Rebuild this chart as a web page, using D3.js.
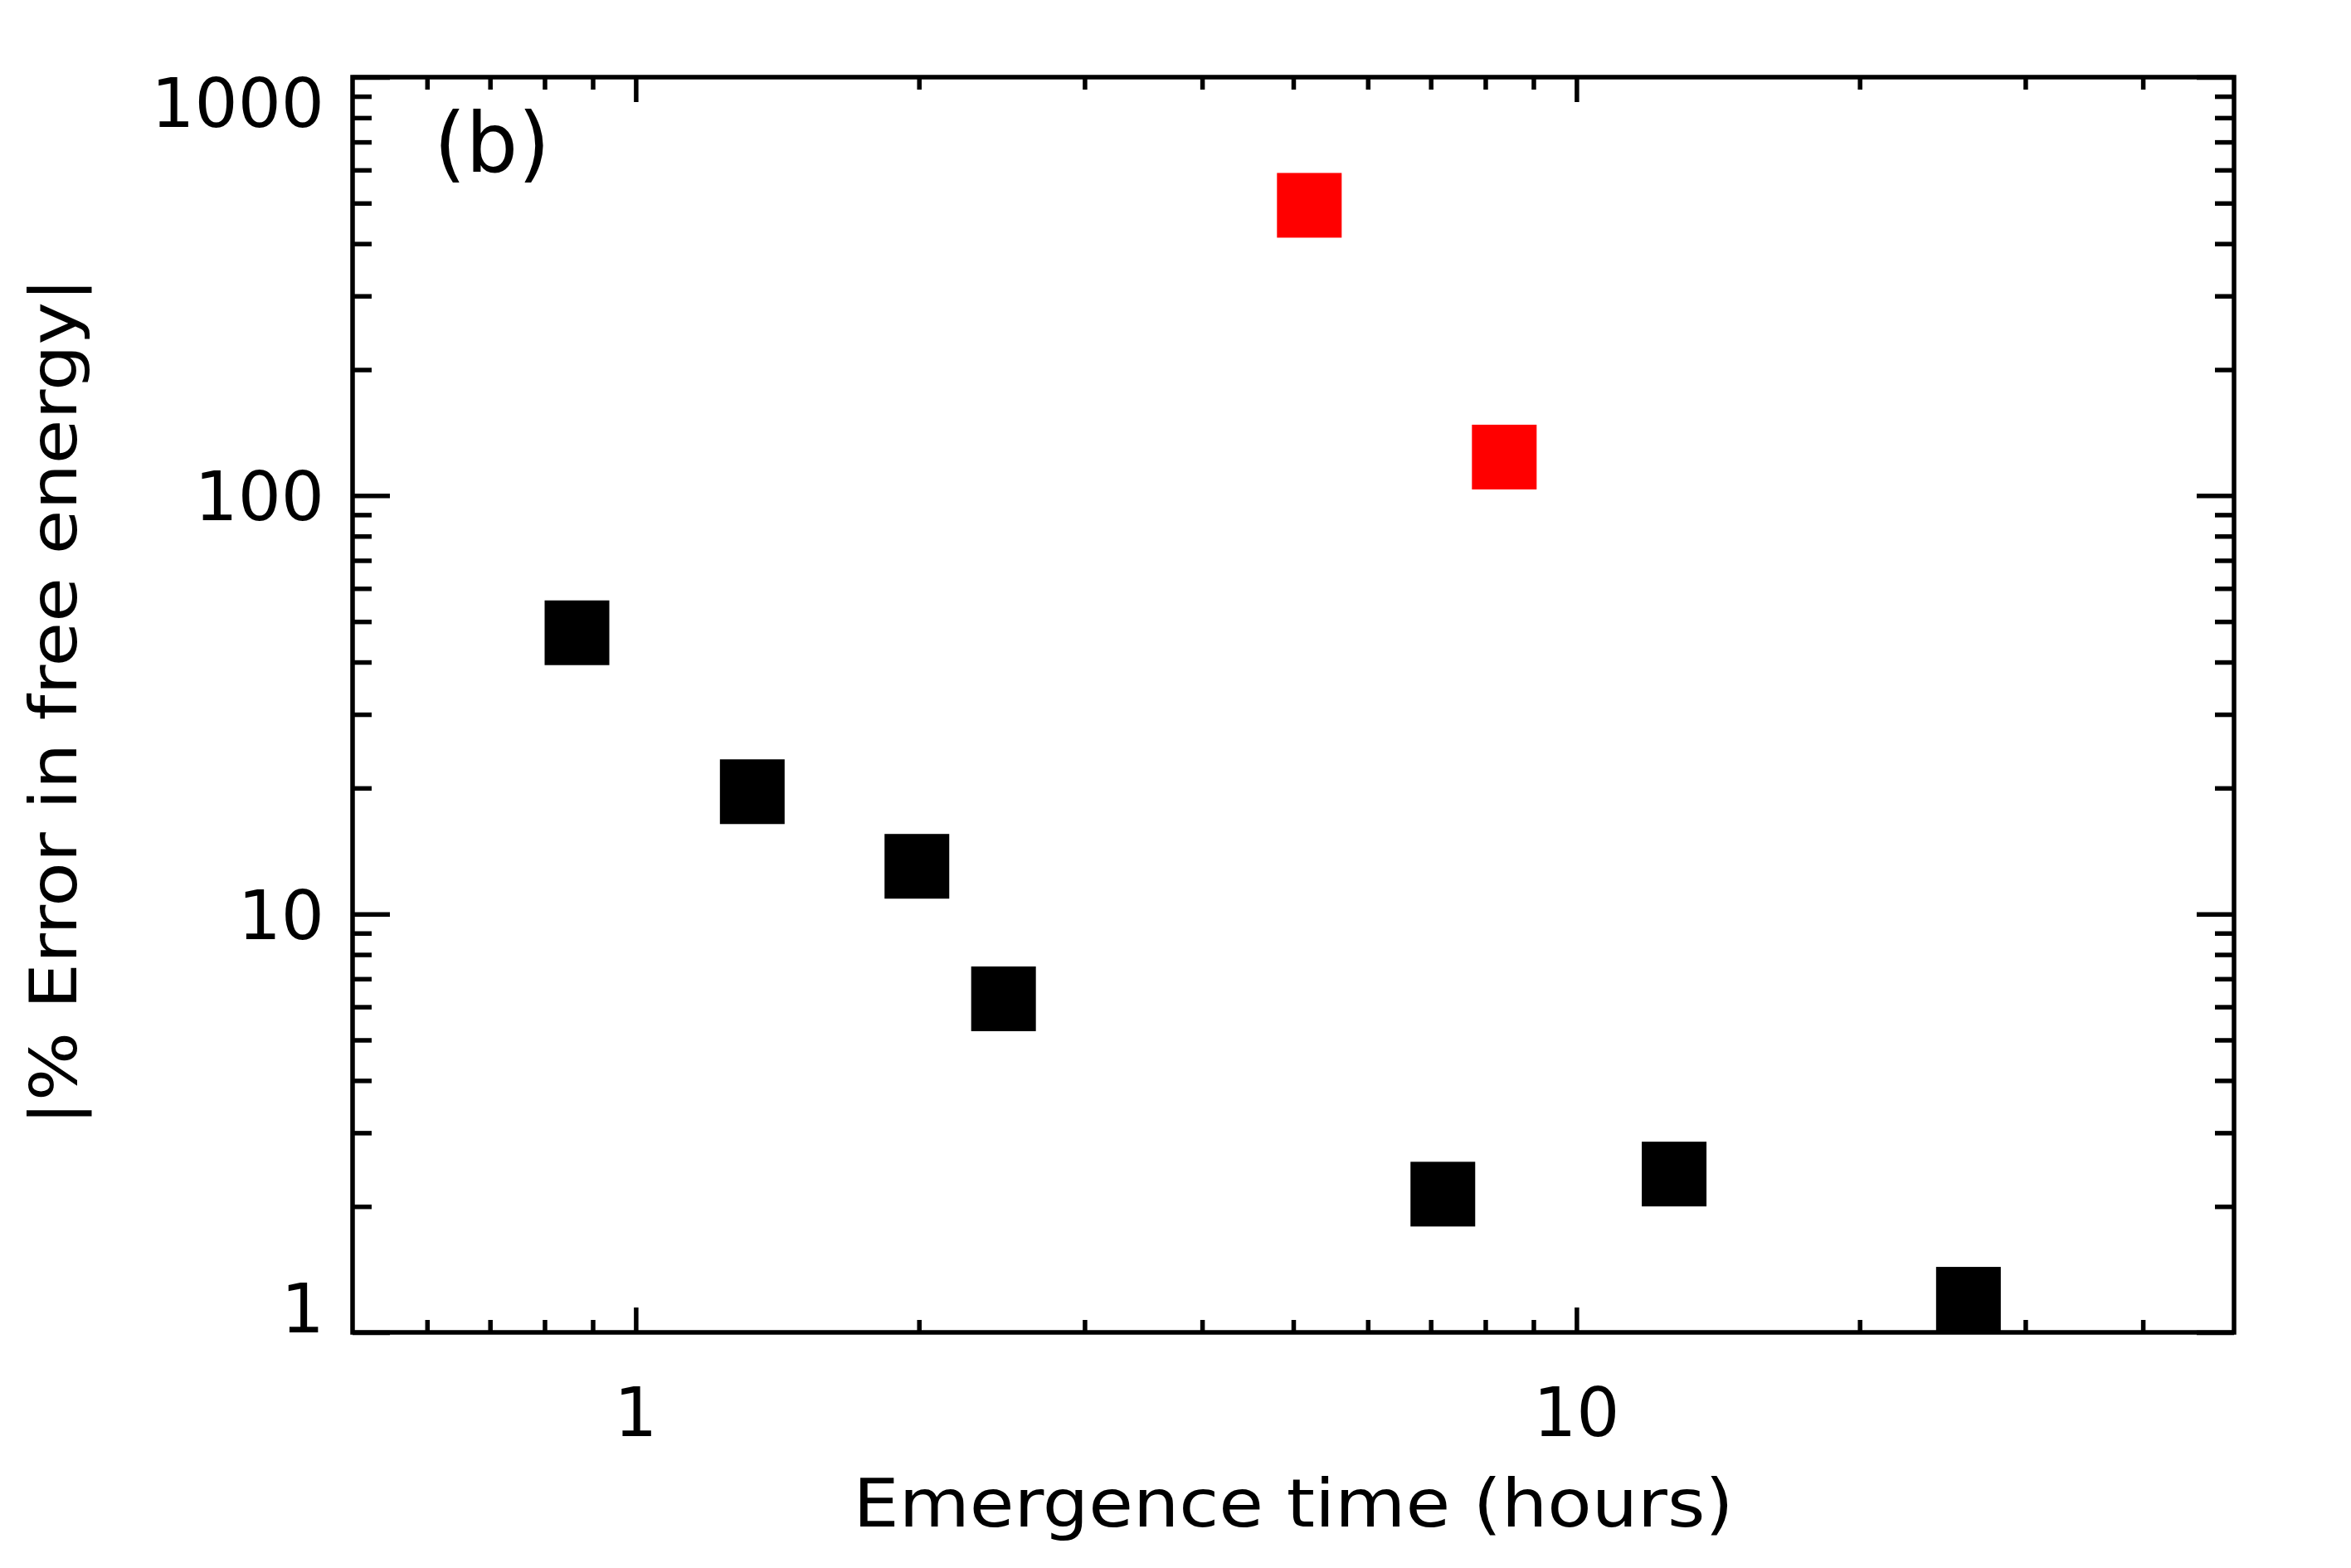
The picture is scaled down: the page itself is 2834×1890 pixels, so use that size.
<!DOCTYPE html>
<html>
<head>
<meta charset="utf-8">
<script src="https://cdn.jsdelivr.net/npm/d3@7"></script>
<style>
  body { margin: 0; background: #fff; }
  text { font-family: "DejaVu Sans", sans-serif; fill: #000; }
</style>
</head>
<body>
<svg id="chart" width="2834" height="1890"></svg>
<script>
// values
var emergenceTime = [0.866, 1.33, 1.99, 2.46, 7.21, 12.7, 26.1];
var errorPct      = [47.0, 19.6, 13.0, 6.27, 2.14, 2.39, 1.20];
var redTime  = [5.20, 8.38];
var redError = [494, 123.6];

var xMajor = [1, 10];
var xMinor = [0.6, 0.7, 0.8, 0.9, 2, 3, 4, 5, 6, 7, 8, 9, 20, 30, 40];
var yMajor = [1, 10, 100, 1000];
var yMinor = [2, 3, 4, 5, 6, 7, 8, 9, 20, 30, 40, 50, 60, 70, 80, 90,
              200, 300, 400, 500, 600, 700, 800, 900];

// plot box (window.top is reserved, so keep these in an object)
var box = { left: 425, right: 2693, top: 93, bottom: 1606 };
var lw = 5.5;

var svg = d3.select("#chart");
svg.append("rect").attr("width", 2834).attr("height", 1890).attr("fill", "#fff");

var x = d3.scaleLog().domain([0.5, 50]).range([box.left, box.right]);
var y = d3.scaleLog().domain([1, 1000]).range([box.bottom, box.top]);

// ticks point inward on all four sides
function tickAxis(axis, vals, len, tx, ty) {
  var g = svg.append("g")
      .attr("transform", "translate(" + tx + "," + ty + ")")
      .call(axis.tickValues(vals).tickSize(len).tickFormat(""));
  g.select(".domain").remove();
  g.selectAll(".tick line").attr("stroke", "#000").attr("stroke-width", lw);
}
tickAxis(d3.axisBottom(x), xMajor, -30, 0, box.bottom);
tickAxis(d3.axisBottom(x), xMinor, -15, 0, box.bottom);
tickAxis(d3.axisTop(x), xMajor, -30, 0, box.top);
tickAxis(d3.axisTop(x), xMinor, -15, 0, box.top);
tickAxis(d3.axisLeft(y), yMajor, -45, box.left, 0);
tickAxis(d3.axisLeft(y), yMinor, -23, box.left, 0);
tickAxis(d3.axisRight(y), yMajor, -45, box.right, 0);
tickAxis(d3.axisRight(y), yMinor, -23, box.right, 0);

svg.append("rect")
    .attr("x", box.left).attr("y", box.top)
    .attr("width", box.right - box.left).attr("height", box.bottom - box.top)
    .attr("fill", "none").attr("stroke", "#000").attr("stroke-width", lw);

// tick labels
svg.selectAll(".xlab").data(xMajor).enter().append("text")
    .attr("x", function(d) { return x(d); })
    .attr("y", 1731)
    .attr("text-anchor", "middle")
    .attr("font-size", 82)
    .text(function(d) { return d; });

// end labels are kept inside the vertical extent of the axis
svg.selectAll(".ylab").data(yMajor).enter().append("text")
    .attr("x", 391)
    .attr("y", function(d) {
      var b = y(d) + 30;
      return Math.max(box.top + 60, Math.min(box.bottom, b));
    })
    .attr("text-anchor", "end")
    .attr("font-size", 82)
    .text(function(d) { return d; });

// axis titles
svg.append("text")
    .attr("x", (box.left + box.right) / 2).attr("y", 1840)
    .attr("text-anchor", "middle")
    .attr("font-size", 80)
    .attr("textLength", 1061).attr("lengthAdjust", "spacingAndGlyphs")
    .text("Emergence time (hours)");

svg.append("text")
    .attr("transform", "translate(92," + ((box.top + box.bottom) / 2 - 4) + ") rotate(-90)")
    .attr("text-anchor", "middle")
    .attr("font-size", 78)
    .attr("textLength", 1022).attr("lengthAdjust", "spacingAndGlyphs")
    .text("|% Error in free energy|");

svg.append("text")
    .attr("x", 523).attr("y", 207)
    .attr("font-size", 100)
    .attr("textLength", 140).attr("lengthAdjust", "spacingAndGlyphs")
    .text("(b)");

// markers
var sz = 78;
var pts = emergenceTime.map(function(t, i) { return [t, errorPct[i]]; });
svg.selectAll(".blk").data(pts).enter().append("rect")
    .attr("x", function(d) { return x(d[0]) - sz / 2; })
    .attr("y", function(d) { return y(d[1]) - sz / 2; })
    .attr("width", sz).attr("height", sz)
    .attr("fill", "#000");

var redPts = redTime.map(function(t, i) { return [t, redError[i]]; });
svg.selectAll(".red").data(redPts).enter().append("rect")
    .attr("x", function(d) { return x(d[0]) - sz / 2; })
    .attr("y", function(d) { return y(d[1]) - sz / 2; })
    .attr("width", sz).attr("height", sz)
    .attr("fill", "#ff0000");
</script>
</body>
</html>
